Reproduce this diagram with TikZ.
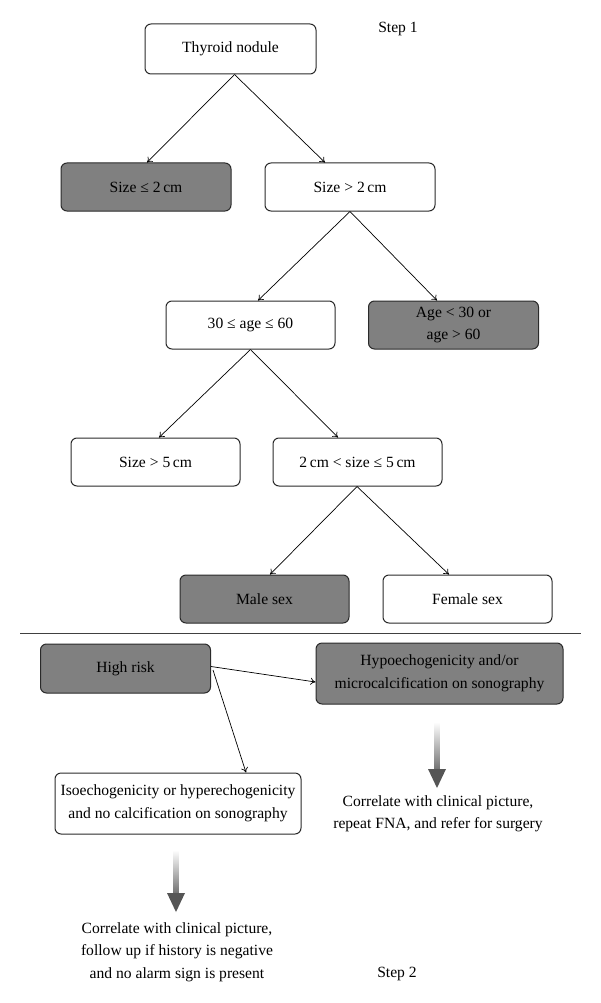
\documentclass[tikz,border=0pt]{standalone}
\usepackage{fontspec}
\setmainfont{Liberation Serif}
\usetikzlibrary{calc,arrows.meta}
\definecolor{boxgray}{HTML}{808080}
\definecolor{edge}{HTML}{2A2A2A}
\definecolor{headgray}{HTML}{555555}
\begin{document}
\begin{tikzpicture}[x=1pt,y=-1pt,
  font=\fontsize{15.6}{22.5}\selectfont,
  box/.style={draw=edge, line width=1pt, rounded corners=6pt, fill=white,
    minimum width=170pt, minimum height=48pt, inner sep=0pt, align=center},
  dark/.style={box, fill=boxgray},
  conn/.style={draw=black, line width=0.7pt, -{To[length=5pt,width=7pt]}},
  plain/.style={align=center, inner sep=0pt}]
\useasboundingbox (0,0) rectangle (600,1003);

% Step 1
\node[box, minimum width=171pt, minimum height=50pt] (thy) at (230.5,49) {Thyroid nodule};
\node[plain] (step1) at (398,29) {Step 1};
\node[dark] (s1) at (146,187) {Size ≤ 2\,cm};
\node[box] (s2) at (350,187) {Size > 2\,cm};
\node[box, minimum width=169pt] (a1) at (250.5,325) {30 ≤ age ≤ 60};
\node[dark] (a2) at (453.5,325) {Age < 30 or\\age > 60};
\node[box, minimum width=169pt] (z1) at (155.5,462) {Size > 5\,cm};
\node[box, minimum width=169pt] (z2) at (357.5,462) {2\,cm < size ≤ 5\,cm};
\node[dark, minimum width=169pt] (m) at (264.5,599) {Male sex};
\node[box, minimum width=169pt] (f) at (467.5,599) {Female sex};

\draw[conn] ($(thy.south)+(4,0)$) -- ($(s1.north)+(1,0)$);
\draw[conn] ($(thy.south)+(4,0)$) -- ($(s2.north)+(-25,0)$);
\draw[conn] (s2.south) -- ($(a1.north)+(7.5,0)$);
\draw[conn] (s2.south) -- ($(a2.north)+(-16.5,0)$);
\draw[conn] (a1.south) -- ($(z1.north)+(3.5,0)$);
\draw[conn] (a1.south) -- ($(z2.north)+(-19.5,0)$);
\draw[conn] ($(z2.south)+(-0.5,0)$) -- ($(m.north)+(5.5,0)$);
\draw[conn] ($(z2.south)+(-0.5,0)$) -- ($(f.north)+(-18.5,0)$);

% separator
\coordinate (l1) at (20,633);
\coordinate (l2) at (581,633);
\draw[line width=0.9pt, draw=black!75] (l1) -- (l2);

% Step 2
\node[dark, minimum height=49pt] (hr) at (125.5,668.5) {High risk};
\node[dark, minimum width=247pt, minimum height=61pt] (hy) at (439.5,673.5) {Hypoechogenicity and/or\\microcalcification on sonography};
\node[box, minimum width=246pt, minimum height=61pt] (iso) at (178,803.5) {Isoechogenicity or hyperechogenicity\\and no calcification on sonography};
\node[plain] (c1) at (438,814) {Correlate with clinical picture,\\repeat FNA, and refer for surgery};
\node[plain] (c2) at (177,952) {Correlate with clinical picture,\\follow up if history is negative\\and no alarm sign is present};
\node[plain] (step2) at (397,974) {Step 2};

\draw[conn] ($(hr.east)+(0,-2)$) -- ($(hy.west)+(0,8.5)$);
\draw[conn] ($(hr.east)+(2,1.5)$) -- ($(iso.north)+(68,0)$);

% gradient arrows
\coordinate (g1t) at (437,722);
\coordinate (g1h) at (437,769);
\coordinate (g1p) at (437,788);
\shade[top color=white, bottom color=black!55] ($(g1t)+(-2.6,0)$) rectangle ($(g1h)+(2.6,0)$);
\fill[headgray] ($(g1h)+(-9,0)$) -- ($(g1h)+(9,0)$) -- (g1p) -- cycle;

\coordinate (g2t) at (176,850);
\coordinate (g2h) at (176,893);
\coordinate (g2p) at (176,912);
\shade[top color=white, bottom color=black!55] ($(g2t)+(-2.6,0)$) rectangle ($(g2h)+(2.6,0)$);
\fill[headgray] ($(g2h)+(-9,0)$) -- ($(g2h)+(9,0)$) -- (g2p) -- cycle;
\end{tikzpicture}
\end{document}
